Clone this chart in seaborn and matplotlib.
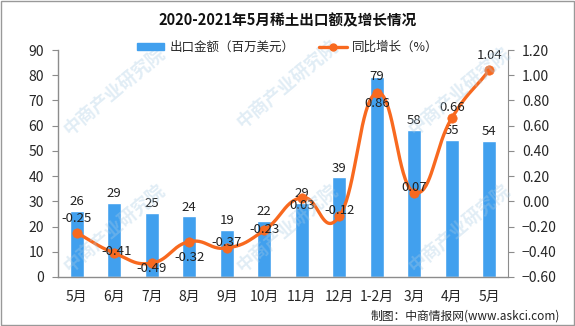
import numpy as np
import pandas as pd
import matplotlib
matplotlib.use("Agg")
import matplotlib.pyplot as plt
import seaborn as sns
from matplotlib.patches import Rectangle
from matplotlib.lines import Line2D
from matplotlib.patches import Patch

months = ["5月", "6月", "7月", "8月", "9月", "10月", "11月", "12月", "1-2月", "3月", "4月", "5月 "]
export_value = [26.3, 29.5, 25.5, 24.0, 18.8, 22.3, 29.4, 39.6, 79.2, 58.3, 54.4, 54.0]
value_labels = ["26", "29", "25", "24", "19", "22", "29", "39", "79", "58", "55", "54"]
yoy_growth = [-0.25, -0.41, -0.49, -0.32, -0.37, -0.23, 0.03, -0.12, 0.86, 0.07, 0.66, 1.04]
left_ticks = [0, 10, 20, 30, 40, 50, 60, 70, 80, 90]
right_ticks = [-0.60, -0.40, -0.20, 0.00, 0.20, 0.40, 0.60, 0.80, 1.00, 1.20]

BAR = "#41A0EE"
LINE = "#F8691F"
GRAY = "#8C8C8C"

sns.set_style("white")
plt.rcParams['font.family'] = ['Noto Sans CJK SC', 'DejaVu Sans']

fig = plt.figure(figsize=(5.75, 3.26), dpi=100)

# watermark (behind everything)
for (wx, wy) in [(0.2, 0.72), (0.5, 0.74), (0.8, 0.72), (0.2, 0.3), (0.5, 0.3), (0.8, 0.3)]:
    fig.text(wx, wy, "中商产业研究院", rotation=40, fontsize=13, color="#A8CBE4",
             alpha=0.35, ha="center", va="center", fontweight="bold", zorder=0)

ax = fig.add_axes([58/575, 1-277/326, 450/575, 227/326])
ax.patch.set_alpha(0)

df = pd.DataFrame({"month": months, "value": export_value})
sns.barplot(data=df, x="month", y="value", color=BAR, width=0.37, ax=ax, saturation=1)
ax.set_ylim(0, 90)
ax.set_xlim(-0.5, len(months)-0.5)
ax.set_yticks(left_ticks)
ax.set_yticklabels([str(t) for t in left_ticks], fontsize=10)
ax.set_xlabel("")
ax.set_ylabel("")
ax.set_xticks(range(len(months)))
ax.set_xticklabels([m.strip() for m in months], fontsize=10)
ax.set_xticks(np.arange(-0.5, len(months), 1.0), minor=True)
ax.tick_params(axis="x", which="major", length=0, pad=9)
ax.tick_params(axis="x", which="minor", length=4, color=GRAY, direction="out")
ax.tick_params(axis="y", length=4, color=GRAY, direction="out", pad=6, left=True)
for s in ["top", "right"]:
    ax.spines[s].set_visible(False)
for s in ["left", "bottom"]:
    ax.spines[s].set_color(GRAY)
    ax.spines[s].set_linewidth(1)

# bar labels
for i, (v, lab) in enumerate(zip(export_value, value_labels)):
    dy = 9
    if lab == "79":
        dy = 1
    ax.annotate(lab, (i, v), xytext=(0, dy*0.72), textcoords="offset points",
                ha="center", va="center", fontsize=9.5, color="#222222")

ax2 = ax.twinx()
ax2.set_ylim(-0.6, 1.2)
ax2.set_yticks(right_ticks)
ax2.set_yticklabels([f"{t:.2f}".replace("-", "\u2212") for t in right_ticks], fontsize=10)
ax2.tick_params(axis="y", length=4, color=GRAY, direction="out", pad=6, right=True)
for s in ["top", "left", "bottom"]:
    ax2.spines[s].set_visible(False)
ax2.spines["right"].set_color(GRAY)

# smooth curve rendered through the data points (Bezier, Excel-like smoothing)
xs = np.arange(len(yoy_growth), dtype=float)
ys = np.array(yoy_growth, dtype=float)
px = np.concatenate([[2*xs[0]-xs[1]], xs, [2*xs[-1]-xs[-2]]])
py = np.concatenate([[2*ys[0]-ys[1]], ys, [2*ys[-1]-ys[-2]]])
cx, cy = [], []
t = np.linspace(0, 1, 40)
f = 0.23
for k in range(1, len(px)-2):
    p0, p1, p2, p3 = [np.array([px[j], py[j]]) for j in (k-1, k, k+1, k+2)]
    c1 = p1 + (p2 - p0)*f
    c2 = p2 - (p3 - p1)*f
    b = ((1-t)**3)[:, None]*p1 + (3*(1-t)**2*t)[:, None]*c1 + (3*(1-t)*t**2)[:, None]*c2 + (t**3)[:, None]*p2
    cx.extend(b[:, 0]); cy.extend(b[:, 1])
ax2.plot(cx, cy, color=LINE, lw=2.4, solid_capstyle="round", zorder=3)
sns.scatterplot(x=xs, y=ys, color=LINE, s=45, edgecolor=LINE, ax=ax2, zorder=4, legend=False)

label_off = [14, 2, -5, -16, 5, 1, -8, 6, -11, 5, 11, 15]
label_dx = [0, 2, 0, 0, 0, 0, 0, 0, 0, 0, 0, 0]
for i, (g, dy, dx) in enumerate(zip(yoy_growth, label_off, label_dx)):
    ax2.annotate(f"{g:.2f}", (i, g), xytext=(dx*0.72, dy*0.72), textcoords="offset points",
                 ha="center", va="center", fontsize=9.5, color="#222222", zorder=5)

fig.text(0.5, 1-20/326, "2020-2021年5月稀土出口额及增长情况", ha="center", va="center",
         fontsize=10.5, fontweight="bold", color="#111111")

handles = [Patch(facecolor=BAR, edgecolor=BAR),
           Line2D([0], [0], color=LINE, lw=2.4, marker="o", markersize=5)]
fig.legend(handles, ["出口金额（百万美元）", "同比增长（%）"], loc="center",
           bbox_to_anchor=(0.5, 1-47/326), ncol=2, frameon=False, fontsize=9,
           handlelength=2.2, handleheight=0.5, columnspacing=2.0, handletextpad=0.4)

fig.text(560/575, 1-316/326, "制图：中商情报网(www.askci.com)", ha="right", va="center",
         fontsize=8.5, color="#222222")

fig.patches.append(Rectangle((0.001, 0.002), 0.997, 0.996, transform=fig.transFigure,
                             fill=False, edgecolor="#999999", lw=1))

fig.savefig("out.png", dpi=100)
